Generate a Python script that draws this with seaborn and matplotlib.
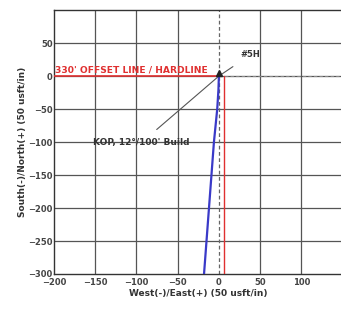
import matplotlib
matplotlib.use("Agg")
import matplotlib.pyplot as plt
import pandas as pd
import seaborn as sns

# well path (West(-)/East(+), South(-)/North(+))
path_ew = [0, -0.5, -2, -4, -6, -9, -12, -15, -18]
path_ns = [0, -20, -50, -75, -100, -150, -200, -250, -300]

# hardline / offset line
hardline_x = [-200, 0]
hardline_y = [0, 0]
offset_x = [6, 6]
offset_y = [0, -300]

x_ticks = [-200, -150, -100, -50, 0, 50, 100]
y_ticks = [50, 0, -50, -100, -150, -200, -250, -300]

sns.set_style("white")
plt.rcParams['font.family'] = ['DejaVu Sans']

fig = plt.figure(figsize=(3.41, 3.09), dpi=100)
ax = fig.add_axes([0.158, 0.1133, 0.8468, 0.854])

df = pd.DataFrame({"ew": path_ew, "ns": path_ns})

# grid
for gx in range(-150, 151, 50):
    if gx == 0:
        continue
    ax.axvline(gx, color="#555555", lw=0.9, zorder=1)
for gy in range(-250, 100, 50):
    ax.axhline(gy, color="#555555", lw=0.9, zorder=1)
ax.axvline(0, color="#666666", lw=0.9, ls=(0, (3, 2)), zorder=1)
ax.plot([0, 150], [0, 0], color="#888888", lw=0.8, ls=(0, (3, 2)), zorder=1)

ax.plot(hardline_x, hardline_y, color="#e03030", lw=1.2, zorder=3)
ax.plot(offset_x, offset_y, color="#e03030", lw=1.0, zorder=3)

sns.lineplot(data=df, x="ew", y="ns", sort=False, color="#3a3ac8", lw=1.6, ax=ax, zorder=4)
ax.plot([0], [4], marker="^", color="#222222", ms=5, zorder=5)

ax.annotate("#5H", xy=(0, 0), xytext=(38, 32), fontsize=6, fontweight="bold",
            color="#333333", ha="center", va="center",
            arrowprops=dict(arrowstyle="-", color="#555555", lw=0.8, shrinkB=0, shrinkA=5))
ax.annotate("KOP, 12°/100' Build", xy=(0, 0), xytext=(-94, -101), fontsize=6.5, fontweight="bold",
            color="#333333", ha="center", va="center",
            arrowprops=dict(arrowstyle="-", color="#555555", lw=0.8, shrinkB=0, shrinkA=6))
ax.text(-106, 9, "330' OFFSET LINE / HARDLINE", color="#e03030", fontsize=6.6, fontweight="bold",
        ha="center", va="center", zorder=6, clip_on=False)

ax.set_xlim(-200, 150)
ax.set_ylim(-300, 100)
ax.set_xticks(x_ticks)
ax.set_yticks(y_ticks)
ax.set_xticks(range(-200, 151, 10), minor=True)
ax.set_yticks(range(-300, 101, 10), minor=True)
ax.tick_params(axis="both", which="major", direction="in", length=3, labelsize=6,
               labelcolor="#444444", color="#333333", pad=1)
ax.tick_params(axis="x", which="major", pad=3)
ax.tick_params(axis="both", which="minor", direction="in", length=1.5, color="#333333")
for lab in ax.get_xticklabels() + ax.get_yticklabels():
    lab.set_fontweight("bold")
for s in ax.spines.values():
    s.set_color("#333333")
    s.set_linewidth(1.0)

ax.set_xlabel("West(-)/East(+) (50 usft/in)", fontsize=6.5, fontweight="bold", color="#333333", labelpad=1)
ax.set_ylabel("South(-)/North(+) (50 usft/in)", fontsize=6.5, fontweight="bold", color="#333333", labelpad=1)

fig.savefig("out.png", dpi=100)
